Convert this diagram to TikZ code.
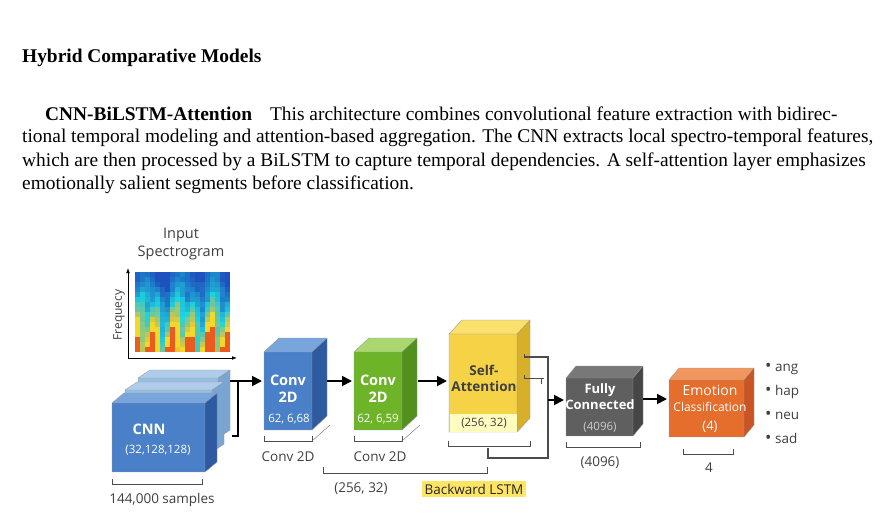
\documentclass[tikz,border=0pt]{standalone}
\usepackage{fontspec}
\setmainfont{Liberation Serif}
\newfontfamily\dsans{Open Sans}
\usetikzlibrary{arrows.meta}
\definecolor{bF}{RGB}{74,128,200}\definecolor{bT}{RGB}{120,165,220}\definecolor{bS}{RGB}{45,90,160}
\definecolor{lF}{RGB}{150,190,225}\definecolor{lT}{RGB}{175,205,235}\definecolor{lS}{RGB}{120,165,210}
\definecolor{gF}{RGB}{110,180,40}\definecolor{gT}{RGB}{170,215,110}\definecolor{gS}{RGB}{80,145,30}
\definecolor{yF}{RGB}{245,210,70}\definecolor{yT}{RGB}{250,225,110}\definecolor{yS}{RGB}{215,175,40}
\definecolor{kF}{RGB}{95,95,95}\definecolor{kT}{RGB}{120,120,120}\definecolor{kS}{RGB}{70,70,70}
\definecolor{oF}{RGB}{230,110,45}\definecolor{oT}{RGB}{240,150,95}\definecolor{oS}{RGB}{200,85,35}
\tikzset{
  lbl/.style={font=\dsans\fontsize{13.5}{16}\selectfont, text=black!75, inner sep=0},
  wlbl/.style={font=\dsans\bfseries\fontsize{14.5}{17}\selectfont, text=white, align=center, inner sep=0},
  slbl/.style={font=\dsans\fontsize{11.5}{13}\selectfont, text=white, inner sep=0},
  body/.style={font=\fontsize{19.4}{22}\selectfont, anchor=west, inner sep=0},
  conn/.style={line width=1.8pt, -{Triangle[length=10pt,width=10pt]}},
  thin/.style={line width=0.9pt, black!70},
}
\newcommand{\mycube}[9]{%
  \fill[#7] (#1,#2) -- (#1+#5,#2-#6) -- (#3+#5,#2-#6) -- (#3,#2) -- cycle;
  \fill[#9] (#3,#2) -- (#3+#5,#2-#6) -- (#3+#5,#4-#6) -- (#3,#4) -- cycle;
  \fill[#8] (#1,#2) rectangle (#3,#4);
  \draw[black!40, line width=0.4pt] (#1,#2) rectangle (#3,#4) (#1,#2) -- (#1+#5,#2-#6) -- (#3+#5,#2-#6) -- (#3+#5,#4-#6) -- (#3,#4) (#3,#2) -- (#3+#5,#2-#6);
}
\newcommand{\brk}[3]{\draw[thin] (#1,#3-5) -- (#1,#3) -- (#2,#3) -- (#2,#3-5);}
\begin{document}
\begin{tikzpicture}[x=1pt,y=-1pt]
\useasboundingbox (0,0) rectangle (882,514);
\fill[white] (0,0) rectangle (882,514);
\node[body, font=\bfseries\fontsize{19.4}{22}\selectfont] (h) at (22,58) {Hybrid Comparative Models};
\node[body] (p1) at (45,114) {\textbf{CNN-BiLSTM-Attention}\hspace{18pt}This architecture combines convolutional feature extraction with bidirec-};
\node[body] (p2) at (22,138) {tional temporal modeling and attention-based aggregation. The CNN extracts local spectro-temporal features,};
\node[body] (p3) at (22,162) {which are then processed by a BiLSTM to capture temporal dependencies. A self-attention layer emphasizes};
\node[body] (p4) at (22,185) {emotionally salient segments before classification.};

% spectrogram
\node[lbl, font=\dsans\fontsize{14.5}{17}\selectfont, align=center] (inp) at (181,244) {Input\\[1pt]Spectrogram};
\foreach \i in {0,...,18}{
  \foreach \j in {0,...,15}{
    \pgfmathsetmacro{\h}{max(0,min(1,(\j/15)^1.3*(0.75+0.35*sin(\i*97+\j*11)) + 0.08*sin(\i*53)+0.08*rnd))}
    \pgfmathsetmacro{\r}{int(\h<0.35 ? 30 : (\h<0.6 ? 60+ (\h-0.35)*700 : (\h<0.8 ? 245 : 235)))}
    \pgfmathsetmacro{\g}{int(\h<0.35 ? 80+\h*400 : (\h<0.6 ? 200 : (\h<0.8 ? 215 : 90)))}
    \pgfmathsetmacro{\b}{int(\h<0.35 ? 190+\h*100 : (\h<0.6 ? 200-(\h-0.35)*600 : (\h<0.8 ? 40 : 30)))}
    \definecolor{cc}{RGB}{\r,\g,\b}
    \fill[cc] (135+\i*5,272+\j*5) rectangle +(5.1,5.1);
  }
}
\draw[line width=0.8pt,-{Latex[length=5pt]}] (128,358) -- (128,268);
\draw[line width=0.8pt,-{Latex[length=5pt]}] (128,358) -- (237,358);
\node[lbl, rotate=90, font=\dsans\fontsize{12}{13}\selectfont] (fq) at (119,315) {Frequecy};

% CNN stack
\mycube{138}{378}{218}{438}{12}{8}{lT}{lF}{lS}
\mycube{125}{390}{212}{452}{12}{8}{lT}{lF}{lS}
\mycube{112}{403}{205}{472}{12}{10}{bT}{bF}{bS}
\node[wlbl] (cnn) at (149,429) {CNN};
\node[slbl] (cnnd) at (158,450) {(32,128,128)};
\brk{112}{202}{484}
\node[lbl] (s144) at (162,500) {144,000 samples};

% conv1
\mycube{264}{352}{312}{430}{15}{14}{bT}{bF}{bS}
\node[wlbl] (c1) at (288,389) {Conv\\2D};
\node[slbl] (c1d) at (289,419) {62, 6,68};
\brk{264}{312}{441}
\draw[black!55] (312,441) -- (330,425);
\node[lbl] (c1l) at (288,457) {Conv 2D};
% conv2
\mycube{354}{352}{402}{430}{15}{14}{gT}{gF}{gS}
\node[wlbl] (c2) at (378,389) {Conv\\2D};
\node[slbl] (c2d) at (378,419) {62, 6,59};
\brk{354}{402}{441}
\draw[black!55] (402,441) -- (420,425);
\node[lbl] (c2l) at (380,457) {Conv 2D};
% self attention
\mycube{449}{334}{517}{432}{13}{14}{yT}{yF}{yS}
\fill[yellow!25!white] (450,414) rectangle (516.5,431.5);
\node[lbl, font=\dsans\bfseries\fontsize{13.5}{16}\selectfont, align=center, text=black!75] (sa) at (484,378) {Self-\\Attention};
\node[lbl, font=\dsans\fontsize{11.5}{13}\selectfont] (sad) at (484,423) {(256, 32)};
\brk{448}{530}{446}
% FC
\mycube{566}{378}{633}{436}{10}{12}{kT}{kF}{kS}
\node[wlbl, font=\dsans\bfseries\fontsize{13}{16}\selectfont] (fc) at (600,397) {Fully\\Connected};
\node[slbl, text=black!20] (fcd) at (600,427) {(4096)};
\brk{566}{640}{447}
\node[lbl] (fcl) at (600,463) {(4096)};
% Emotion
\mycube{669}{380}{744}{437}{10}{12}{oT}{oF}{oS}
\node[wlbl, font=\dsans\fontsize{14}{16}\selectfont] (em) at (710,390) {Emotion};
\node[slbl, font=\dsans\fontsize{12}{13}\selectfont] (em2) at (710,407) {Classification};
\node[slbl, font=\dsans\fontsize{13}{14}\selectfont] (em3) at (710,427) {(4)};
\brk{683}{733}{454}
\node[lbl] (el) at (709,468) {4};
\foreach \t [count=\k] in {ang,hap,neu,sad}
  \node[lbl, anchor=west] (b\k) at (765,346+\k*23) {{\fontsize{17}{16}\selectfont\textbullet}\ \t};

% connectors
\coordinate (a0) at (230,381); \coordinate (a1) at (262,381);
\draw[conn] (a0) -- (a1);
\draw[line width=1.1pt] (238,381) -- (238,436) -- (232,436);
\draw[conn] (327,381) -- (352,381);
\draw[conn] (418,381) -- (447,381);
\draw[thin, line width=1.1pt] (524,357) -- (548,357) -- (548,458) -- (488,458) -- (488,448);
\draw[thin] (524,357) -- +(0,-3) (524,378) -- +(0,-3);
\draw[thin] (524,378) -- (541,378) -- (541,384) (538,378) -- (544,378);
\draw[conn] (548,400) -- (564,400);
\draw[conn] (643,399) -- (667,399);
% LSTM bracket
\draw[thin] (323,467) -- (323,473) -- (487,473) -- (487,467);
\node[lbl] (l256) at (361,489) {(256, 32)};
\node[lbl, fill=yellow!75!orange!60!white, inner sep=3pt, text=black!85] (bl) at (474,489) {Backward LSTM};
\end{tikzpicture}
\end{document}
